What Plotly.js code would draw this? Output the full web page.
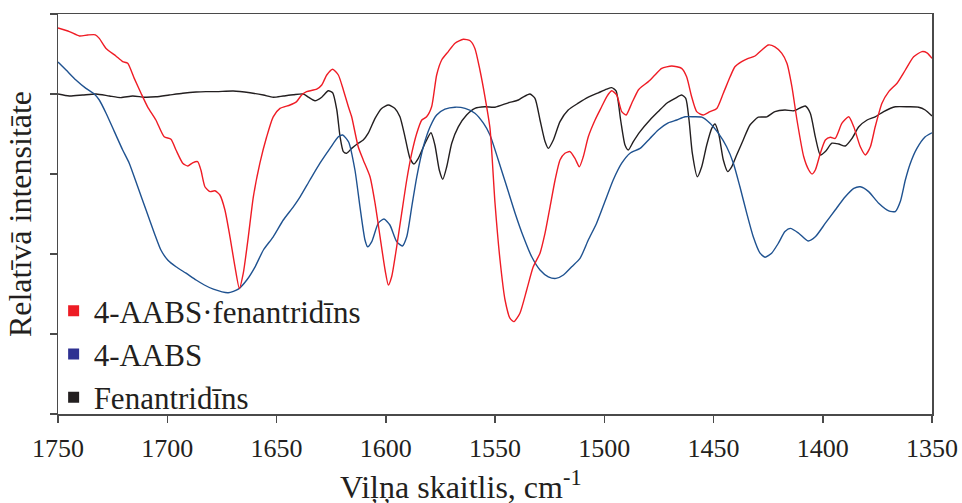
<!DOCTYPE html>
<html>
<head>
<meta charset="utf-8">
<script src="https://cdn.plot.ly/plotly-3.0.1.min.js"></script>
<style>html,body{margin:0;padding:0;background:#fff;}#chart{width:962px;height:503px;}</style>
</head>
<body>
<div id="chart"></div>
<script>
// Series names (legend)
const seriesNames = ["4-AABS·fenantridīns", "4-AABS", "Fenantridīns"];

// 4-AABS·fenantridīns (red)
const complexX = [1750,1744.8,1740.2,1736.4,1732.9,1731.1,1728,1723.5,1720.4,1718.1,1715.1,1712,1709,1705.2,1701.4,1698.3,1696,1692.9,1690.6,1688.4,1686.1,1684.6,1682.7,1680.4,1678.2,1675.9,1673.6,1671.3,1669,1667,1665.2,1662.9,1660.6,1657.6,1654.5,1651.5,1648.4,1643.8,1640.8,1638.5,1636.2,1631.6,1629.3,1627,1624.3,1621.7,1619.4,1617.1,1615.6,1612.6,1610.3,1607.2,1604.9,1602.6,1600.3,1598.8,1597.3,1595,1592.7,1590.4,1588.1,1585.8,1583.5,1581.3,1579,1576.7,1574.4,1571.4,1568.3,1564.5,1561.4,1559.2,1556.9,1554.6,1552.3,1550,1547.7,1545.4,1543.1,1541.3,1538.6,1535.5,1532.5,1529.4,1527.1,1524.8,1522.5,1520.25,1518,1515.7,1513.4,1511.4,1509.6,1507.3,1504.2,1501.2,1498.9,1496.6,1494.3,1492,1490,1487.4,1484.4,1482.9,1479.8,1476.8,1473.7,1469.1,1464.6,1462.3,1460,1457.7,1454.7,1451.6,1448.5,1445.5,1442.4,1440.2,1437.1,1434.1,1431,1427.9,1424.9,1421.9,1418.8,1416.4,1414.1,1411.8,1408.7,1406.4,1404.9,1403.4,1401.1,1398.8,1396.5,1394.3,1391.2,1388.1,1385.8,1382.8,1380.5,1378.2,1376,1372.9,1369.8,1366,1362.2,1358.4,1354.6,1352.3,1350];
const complexY = [96.5,95.6,94.5,94.75,94.8,93.9,91.4,89.5,88.1,87.7,83.9,80.2,76.8,73.5,69.3,68.7,66,62.7,62,62.8,63.1,61,56.75,55.6,55.8,54.75,51,44.3,36.8,31.4,35.2,44.3,54.3,62.7,69.3,74.3,76.4,77.25,78.1,79.75,80.6,81.2,82.25,84.75,86.2,84.75,81,76.8,74.3,66.8,63.5,59.3,52.7,44.3,36,32.25,34.3,41.8,50.2,58.5,65.2,70.2,73.5,74.3,76.8,84.75,88.5,90.6,92.7,93.7,93.3,91.4,86,79.3,71.5,52.75,38.5,28.5,23.9,23.1,25.2,31,36.8,40.2,45.2,51.8,58.5,63.5,65.2,65.6,63.9,61.8,64.3,69.3,73.5,76.8,79.3,80.8,79.75,75.6,74.75,77.7,81,81.8,83.1,84.75,86.4,87,86.4,84.3,79.3,75.6,74.75,75.6,76.4,80.2,84.3,86.8,88.1,88.9,89.5,91,92.25,91.8,90.2,87.7,81.8,73.5,64.3,61,60,61,65.2,68.5,69.2,68.9,72.7,74.3,71.8,66.8,64.75,66.8,71.8,77.7,80.6,82.7,86,89.3,90.6,90.3,88.9];

// 4-AABS (blue)
const aabsX = [1750,1746.3,1741.8,1737.2,1733.4,1731.1,1728,1724.2,1720.4,1717.4,1713.5,1709.7,1705.9,1702.9,1699.8,1696,1691.4,1686.8,1683,1678.9,1672.1,1667.5,1663.6,1659.8,1656,1651.5,1646.9,1642.3,1639.2,1634.7,1630.1,1625.5,1621.7,1619.7,1617,1614.1,1611.8,1609.5,1608.3,1606.4,1603.4,1600.8,1598.1,1595,1592.4,1590.4,1588.1,1585.8,1582.8,1579.7,1576.7,1572.9,1568.3,1563.7,1559.2,1555.3,1552.3,1548.5,1544.6,1540.8,1537,1533.2,1529.4,1525.6,1522.1,1518.7,1514.9,1511.1,1507.3,1503.5,1499.7,1495.9,1492,1488.2,1483.6,1479.1,1475.3,1470.7,1466.8,1463,1459.2,1455.4,1451.6,1447.8,1444,1440.9,1437.9,1434.8,1431.8,1428.7,1426.4,1423.4,1420.3,1417.3,1414.8,1411,1406.7,1403.4,1398.8,1394.3,1389.7,1385.8,1382.8,1379,1374.4,1369.8,1366.8,1364.5,1362.2,1359.9,1356.9,1353.1,1350];
const aabsY = [88,86,83.5,81.4,80,78.5,75.2,70.6,66,62.7,56.8,51,45.2,41,38.5,36.8,35.2,33.5,32.25,31.2,30.3,31.2,33.5,36.8,41,44.3,48.5,51.8,54.3,58.5,62.7,66.4,69.3,69.75,68,61,51.8,43.5,41.8,43.1,47.7,48.75,47.25,43.1,42,44.3,51.8,59.3,66.8,71.8,74.75,76.2,76.7,76.4,75.2,72.7,69.75,63.5,56.8,50.2,44.3,39.3,36,34.3,33.9,34.75,36.8,38.9,43.5,47.7,53.1,58.5,62.7,65.2,66.4,68.9,71,72.8,73.5,74.3,74.3,74.2,72.7,70.2,66.8,62.7,56.8,50.2,44.3,40.2,39.2,40.2,42.7,45.6,46.4,45.2,43.25,44.3,47.7,51,54.3,56.4,56.8,55.6,52.7,50.8,50.6,53.1,58.5,62.7,66.4,69.3,70.3];

// Fenantridīns (black)
const phenX = [1750,1744.8,1738.7,1732.6,1726.5,1721.2,1715.8,1710.5,1705.2,1699.1,1692.9,1686.8,1682.3,1677.4,1669.8,1662.1,1656,1651.5,1646.9,1642.3,1637.7,1635.4,1632.4,1629.3,1626.3,1624.3,1622.4,1620.9,1619.4,1617.9,1615.6,1612.6,1610.3,1608,1604.9,1601.9,1598.8,1595.8,1593.5,1591.2,1588.9,1587.1,1585.1,1582,1579.3,1577.5,1575.5,1573.9,1572.1,1569.8,1566.8,1563,1559.2,1554.6,1550,1543.9,1539.3,1537,1534,1531.7,1529.4,1527.1,1525.6,1523.3,1520.25,1516.5,1511.9,1507.3,1502.7,1498.9,1496.6,1494.6,1492.5,1490.5,1489,1486.7,1483.6,1479.1,1475.3,1471.4,1467.6,1464.6,1462.7,1461.2,1459.7,1457.4,1455.4,1453.1,1450.8,1449.3,1447.5,1445.5,1443.5,1441.7,1439.4,1436.4,1433.3,1429.5,1425.6,1421.9,1417.3,1413.3,1408,1405.7,1403.4,1401.1,1398.8,1395.8,1392.7,1389.7,1386.6,1383.5,1379.7,1376,1372.1,1366.8,1360.7,1356.1,1353.1,1350];
const phenY = [80,79.5,79.75,80,79.5,79.1,79.5,79.2,79.3,79.75,80.2,80.5,80.6,80.6,80.75,80.3,79.75,79.2,79.5,79.8,80,79.2,78.3,79.2,80.8,80.3,76,69.3,65.6,65.2,66.4,67.7,68.5,70.2,73.9,76.4,77.25,76.4,74.3,69.3,63.9,62.5,63.9,67.7,70.3,67.25,61,58.7,61.8,67.7,71.8,74.75,76.4,76.8,76.7,77.8,78.5,79.3,80,78.9,73.5,68.1,66.4,68.5,73.1,76,77.7,79.2,80.3,81.2,81.6,80.8,73.5,67.25,66,68.1,70.6,73.5,75.6,77.7,78.9,79.75,78.9,73.5,65.2,59.3,61.8,67.25,71.4,72.5,69.75,63.5,60.6,61.8,64.75,68.5,72.25,74.2,74.3,75.6,76,75.8,77,75.2,69.3,64.75,65.6,67.7,67.5,67,68.9,71.8,73.5,74.3,75.6,76.8,76.8,76.7,76,74.5];

// Axis ticks
const xTickValues = [1750,1700,1650,1600,1550,1500,1450,1400,1350];
const xTickLabels = ["1750","1700","1650","1600","1550","1500","1450","1400","1350"];
const yTickValues = [0,20,40,60,80,100];

const FONT = "'Liberation Serif', 'Times New Roman', serif";
const TXT = "#231f20";
const AX = "#4a4a4a";

const lineColors = ["#ef1c25", "#1f5290", "#231f20"];
const legendColors = ["#ed1c24", "#2e3192", "#231f20"];
const xs = [complexX, aabsX, phenX];
const ys = [complexY, aabsY, phenY];

const traces = [];
[2,1,0].forEach(i => {
  traces.push({
    x: xs[i], y: ys[i], type: "scatter", mode: "lines",
    line: {color: lineColors[i], width: 1.4, shape: "spline", smoothing: 0.6},
    showlegend: false, hoverinfo: "skip"
  });
});
[0,1,2].forEach(i => {
  traces.push({
    x: [null], y: [null], type: "scatter", mode: "markers",
    name: seriesNames[i], legendgroup: "g" + i,
    marker: {symbol: "square", size: 11, color: legendColors[i]}
  });
});

const layout = {
  width: 962, height: 503,
  margin: {l: 58, r: 30, t: 14, b: 89},
  paper_bgcolor: "#ffffff", plot_bgcolor: "#ffffff",
  font: {family: FONT, color: TXT},
  showlegend: true,
  legend: {
    x: -0.005, xanchor: "left", y: 0.325, yanchor: "top",
    bgcolor: "rgba(0,0,0,0)", borderwidth: 0,
    font: {family: FONT, size: 31, color: TXT},
    traceorder: "normal", tracegroupgap: 0, itemwidth: 30
  },
  xaxis: {
    range: [1750, 1350], tickmode: "array", tickvals: xTickValues, ticktext: xTickLabels,
    showline: true, linecolor: AX, linewidth: 1.5, mirror: true,
    ticks: "outside", ticklen: 7, tickwidth: 1.5, tickcolor: AX,
    showgrid: false, zeroline: false, ticklabelstandoff: 3,
    tickfont: {family: FONT, size: 26, color: TXT}
  },
  yaxis: {
    range: [0, 100], tickmode: "array", tickvals: yTickValues,
    showticklabels: false,
    showline: true, linecolor: AX, linewidth: 1.5, mirror: true,
    ticks: "outside", ticklen: 7, tickwidth: 1.5, tickcolor: AX,
    showgrid: false, zeroline: false,
    title: {text: "Relatīvā intensitāte", font: {family: FONT, size: 32, color: TXT}, standoff: 8}
  },
  annotations: [{
    text: "Viļņa skaitlis, cm<sup>-1</sup>",
    xref: "paper", yref: "paper", x: 0.461, y: -0.122, xanchor: "center", yanchor: "top",
    showarrow: false, font: {family: FONT, size: 32, color: TXT}
  }]
};

Plotly.newPlot("chart", traces, layout, {displayModeBar: false, staticPlot: true});
</script>
</body>
</html>
